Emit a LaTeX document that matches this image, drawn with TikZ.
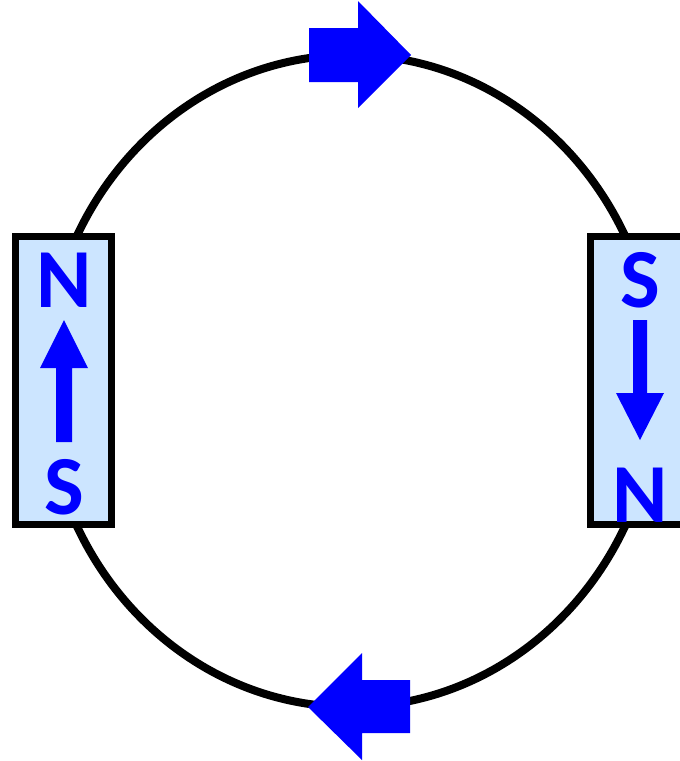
\documentclass[tikz,border=0pt]{standalone}
\usepackage{fontspec}
\setmainfont{Carlito}
\definecolor{magfill}{HTML}{CCE5FF}
\definecolor{pole}{HTML}{0000FF}
\begin{document}
\begin{tikzpicture}[x=1pt,y=-1pt,
  loop/.style={line width=8pt,draw=black},
  magnet/.style={line width=7pt,draw=black,fill=magfill},
  poletext/.style={text=pole,inner sep=0pt,font=\fontsize{84}{84}\selectfont\bfseries},
  bigarrow/.style={fill=pole,draw=none}]
\useasboundingbox (0,0) rectangle (680,761);
% loop
\draw[loop] (351,381) ellipse [x radius=306, y radius=326];
% magnets
\draw[magnet] (15.5,236.5) rectangle (111.5,524.5);
\draw[magnet] (590.5,236.5) rectangle (690,524.5);
% left magnet labels
\node[poletext] (ln) at (64,280) {N};
\node[poletext] (ls) at (64,487) {S};
\fill[pole] (56,442) -- (56,368) -- (40,368) -- (64,320) -- (88,368) -- (72,368) -- (72,442) -- cycle;
% right magnet labels
\node[poletext] (rs) at (640,280) {S};
\node[poletext] (rn) at (640,495) {N};
\fill[pole] (633,320) -- (633,393) -- (616,393) -- (640,440) -- (664,393) -- (647,393) -- (647,320) -- cycle;
% top arrow
\fill[bigarrow] (309,28) -- (358,28) -- (358,1) -- (411,55) -- (358,108) -- (358,82) -- (309,82) -- cycle;
% bottom arrow
\fill[bigarrow] (410,680) -- (362,680) -- (362,653) -- (308,707) -- (362,760) -- (362,733) -- (410,733) -- cycle;
\end{tikzpicture}
\end{document}
